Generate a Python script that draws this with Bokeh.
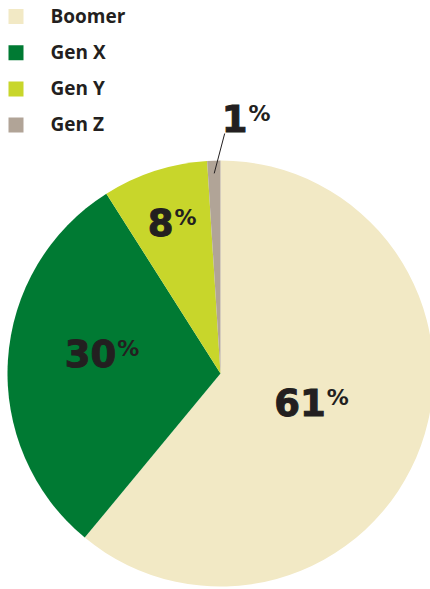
import numpy as np
from bokeh.plotting import figure
from bokeh.models import Range1d, ColumnDataSource
from bokeh.core.properties import value
from bokeh.embed import file_html
from bokeh.resources import INLINE

# ---- data ----
generations = ["Boomer", "Gen X", "Gen Y", "Gen Z"]
shares = [61, 30, 8, 1]
colors = ["#F2E9C5", "#007A33", "#C8D62B", "#B1A497"]

# ---- layout/style ----
W, H = 430, 589
cx, cy, R = 220, 216, 213
ink = "#231F20"

p = figure(width=W, height=H, output_backend="svg", toolbar_location=None,
           x_range=Range1d(0, W), y_range=Range1d(0, H), min_border=0)
p.axis.visible = False
p.grid.visible = False
p.outline_line_color = None
p.background_fill_color = "white"
p.border_fill_color = "white"

frac = np.array(shares) / sum(shares)
cum = np.concatenate([[0], np.cumsum(frac)])
start = np.pi / 2 - 2 * np.pi * cum[:-1]
end = np.pi / 2 - 2 * np.pi * cum[1:]
mid = (start + end) / 2

src = ColumnDataSource(dict(start=start, end=end, color=colors))
p.wedge(x=cx, y=cy, radius=R, start_angle="start", end_angle="end",
        direction="clock", fill_color="color", line_color=None, source=src)

# labels: junction between number and % sign
label_r_frac = [0.535, 0.49, 0.675, 1.134]
label_ang_shift = np.radians([-2.9, 0.8, 1.1, -8.2])
la = mid + label_ang_shift
lx = cx + np.array(label_r_frac) * R * np.cos(la)
ly = cy + np.array(label_r_frac) * R * np.sin(la)
nums = [str(s) for s in shares]
p.text(x=lx, y=ly + 15, text=nums, text_align="right", text_baseline="alphabetic",
       text_font=value("DejaVu Sans"), text_font_style="bold",
       text_font_size="37px", text_color=ink, text_outline_color=ink)
p.text(x=lx + 1, y=ly + 20, text=["%"] * 4, text_align="left",
       text_baseline="alphabetic", text_font=value("DejaVu Sans"),
       text_font_style="bold", text_font_size="22px", text_color=ink)

# leader line for smallest slice
i = len(shares) - 1
a0, a1 = mid[i], np.radians(89)
p.line(x=[cx + 0.94 * R * np.cos(a0), cx + 1.127 * R * np.cos(a1)],
       y=[cy + 0.94 * R * np.sin(a0), cy + 1.127 * R * np.sin(a1)],
       line_color=ink, line_width=1)

# legend
idx = np.arange(len(generations))
leg_y = H - 16 - idx * 36.2
p.rect(x=15.5, y=leg_y, width=15, height=15, fill_color=colors, line_color=None)
p.text(x=50, y=leg_y + 1, text=generations, text_baseline="middle",
       text_font=value("Open Sans"), text_font_style="bold",
       text_font_size="19px", text_color=ink)

open("out.html", "w").write(file_html(p, INLINE))
